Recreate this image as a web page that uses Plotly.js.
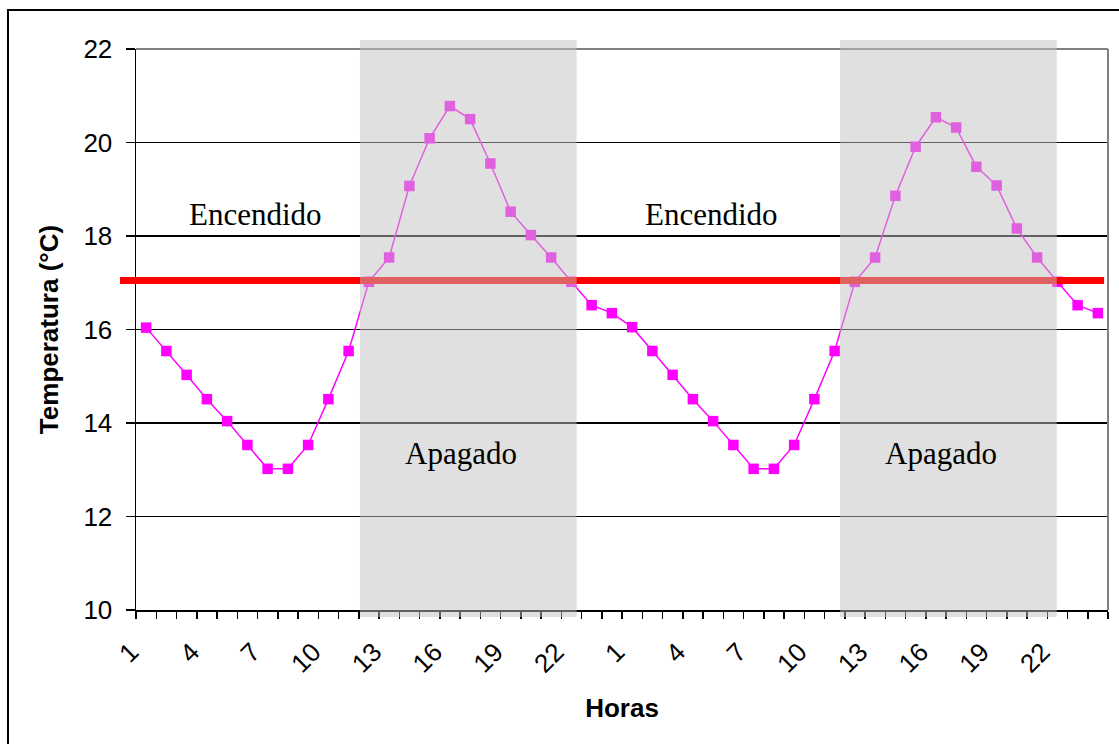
<!DOCTYPE html>
<html>
<head>
<meta charset="utf-8">
<script src="https://cdn.plot.ly/plotly-3.0.1.min.js"></script>
<style>
html,body{margin:0;padding:0;background:#fff;}
#chart{width:1119px;height:744px;}
</style>
</head>
<body>
<div id="chart"></div>
<script>
// ---- data ----
const hourLabels = [1,2,3,4,5,6,7,8,9,10,11,12,13,14,15,16,17,18,19,20,21,22,23,24,
                    1,2,3,4,5,6,7,8,9,10,11,12,13,14,15,16,17,18,19,20,21,22,23,24];
const tempDay1 = [16.04,15.54,15.03,14.51,14.04,13.53,13.02,13.02,13.53,14.51,15.54,17.02,
                  17.54,19.07,20.09,20.78,20.50,19.55,18.52,18.02,17.54,17.02,16.52,16.35];
const tempDay2 = [16.05,15.54,15.03,14.51,14.04,13.53,13.02,13.02,13.53,14.51,15.54,17.02,
                  17.54,18.86,19.91,20.54,20.32,19.48,19.08,18.16,17.54,17.02,16.52,16.35];
const setpoint = [17.05];
const offStart = [10.56, 34.27];
const offEnd   = [21.26, 44.97];
const stateLabels = ['Encendido', 'Apagado'];

// ---- derived ----
const temps = tempDay1.concat(tempDay2);
const xIdx = temps.map((_, i) => i);
const labelIdx = xIdx.filter(i => i % 3 === 0);
const boundaries = xIdx.map(i => i - 0.5).concat([temps.length - 0.5]);

const SANS = 'Liberation Sans, Arial, sans-serif';
const SERIF = 'Liberation Serif, Times New Roman, serif';

const traces = [{
  x: xIdx,
  y: temps,
  type: 'scatter',
  mode: 'lines+markers',
  line: {color: '#FF00FF', width: 1.5},
  marker: {symbol: 'square', size: 10.5, color: '#FF00FF'},
  hoverinfo: 'skip',
  showlegend: false
}];

const shapes = [];
// red setpoint line
shapes.push({type: 'line', xref: 'paper', yref: 'y', x0: -0.0165, x1: 0.996,
  y0: setpoint[0], y1: setpoint[0], line: {color: '#FF0000', width: 7}, layer: 'above'});
// plot top & right border (gray)
shapes.push({type: 'line', xref: 'paper', yref: 'paper', x0: 0, x1: 1, y0: 1, y1: 1,
  line: {color: '#808080', width: 2}, layer: 'above'});
shapes.push({type: 'line', xref: 'paper', yref: 'paper', x0: 1, x1: 1, y0: 0, y1: 1,
  line: {color: '#808080', width: 2}, layer: 'above'});
// "Apagado" shaded periods
offStart.forEach((s, k) => {
  shapes.push({type: 'rect', xref: 'x', yref: 'paper', x0: s, x1: offEnd[k],
    y0: -0.0125, y1: 1.016, fillcolor: 'rgba(194,194,194,0.5)', line: {width: 0}, layer: 'above'});
});
// outer chart border
shapes.push({type: 'rect', xref: 'paper', yref: 'paper', x0: -0.1317, x1: 1.03, y0: -0.3, y1: 1.0695,
  line: {color: '#000', width: 2}, fillcolor: 'rgba(0,0,0,0)', layer: 'below'});

const annFont = {family: SERIF, size: 31, color: '#000'};
const annotations = [
  {x: 5.38, y: 18.47, text: stateLabels[0]},
  {x: 27.94, y: 18.47, text: stateLabels[0]},
  {x: 15.55, y: 13.34, text: stateLabels[1]},
  {x: 39.25, y: 13.34, text: stateLabels[1]}
].map(a => Object.assign({xref: 'x', yref: 'y', showarrow: false, font: annFont,
  xanchor: 'center', yanchor: 'middle'}, a));

const layout = {
  width: 1119, height: 744,
  margin: {l: 136, r: 11, t: 49, b: 134},
  paper_bgcolor: '#fff', plot_bgcolor: '#fff',
  showlegend: false,
  xaxis: {
    range: [-0.5, temps.length - 0.5],
    tickmode: 'array',
    tickvals: labelIdx,
    ticktext: labelIdx.map(i => String(hourLabels[i])),
    ticks: 'outside', ticklen: 0, tickcolor: '#000',
    tickangle: -45,
    tickfont: {family: SANS, size: 26, color: '#000'},
    ticklabelstandoff: 15,
    ticklabelshift: -15,
    minor: {tickmode: 'array', tickvals: boundaries, ticks: 'outside', ticklen: 7,
            tickcolor: '#000', tickwidth: 1.5, showgrid: false},
    showline: true, linecolor: '#000', linewidth: 1.5,
    showgrid: false, zeroline: false,
    title: {text: 'Horas', font: {family: SANS, size: 26, color: '#000', weight: 'bold'}, standoff: 21}
  },
  yaxis: {
    range: [10, 22],
    tickmode: 'array',
    tickvals: [10, 12, 14, 16, 18, 20, 22],
    ticks: 'outside', ticklen: 9, tickcolor: '#000', tickwidth: 1.5,
    tickfont: {family: SANS, size: 26, color: '#000'},
    ticklabelstandoff: 8,
    showline: true, linecolor: '#000', linewidth: 1.5,
    showgrid: true, gridcolor: '#000', gridwidth: 1.2,
    zeroline: false,
    title: {text: 'Temperatura (°C)', font: {family: SANS, size: 26, color: '#000', weight: 'bold'}, standoff: 17}
  },
  shapes: shapes,
  annotations: annotations
};

Plotly.newPlot('chart', traces, layout, {displayModeBar: false, staticPlot: true});
</script>
</body>
</html>
